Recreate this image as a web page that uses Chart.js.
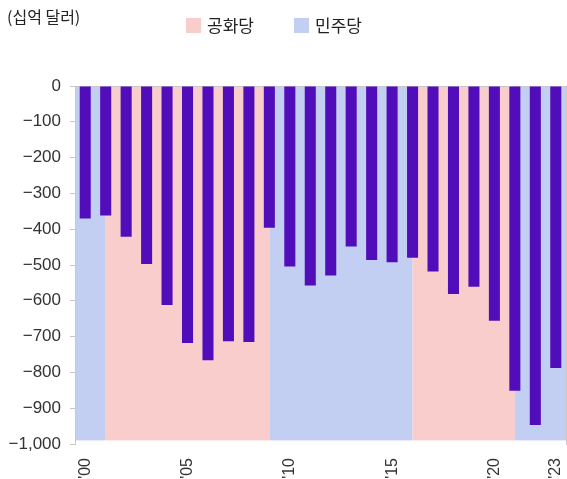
<!DOCTYPE html>
<html>
<head>
<meta charset="utf-8">
<script src="https://cdn.jsdelivr.net/npm/chart.js@4"></script>
<style>
  html, body { margin: 0; padding: 0; background: #fff; }
  #wrap { width: 567px; height: 479px; }
</style>
</head>
<body>
<div id="wrap"><canvas id="deficitChart" width="567" height="479"></canvas></div>
<script>
// Years and values (billion USD)
const years = [2000, 2001, 2002, 2003, 2004, 2005, 2006, 2007, 2008, 2009, 2010, 2011,
               2012, 2013, 2014, 2015, 2016, 2017, 2018, 2019, 2020, 2021, 2022, 2023];
const balance = [-370, -362, -421, -497, -612, -718, -766, -713, -715, -396, -504, -557,
                 -529, -448, -486, -492, -480, -518, -581, -561, -656, -851, -947, -788];
const yTicks = [0, -100, -200, -300, -400, -500, -600, -700, -800, -900, -1000];
const shownYears = [2000, 2005, 2010, 2015, 2020, 2023];

// Party shading (year positions), 0 = Republican, 1 = Democratic
const partyNames = ['공화당', '민주당'];
const spanFrom = [1999.5, 2001, 2009, 2016, 2021];
const spanTo = [2001, 2009, 2016, 2021, 2023.5];
const spanParty = [1, 0, 1, 0, 1];
const shadeFloor = -990;

const unitLabel = '(십억 달러)';
const partyColors = ['#f9cdcc', '#c2cff3'];
const barColor = '#520dbb';
const axisGrey = '#c8c8c8';

const labels = years.map(y => "'" + String(y).slice(2));

// Draw party background bands using the chart's own scales
const partyBands = {
    id: 'partyBands',
    beforeDraw(chart) {
        const { ctx, scales: { x, y } } = chart;
        const top = y.getPixelForValue(0);
        const bottom = y.getPixelForValue(shadeFloor);
        ctx.save();
        spanFrom.forEach((from, i) => {
            const left = x.getPixelForValue(from - years[0]);
            const right = x.getPixelForValue(spanTo[i] - years[0]);
            ctx.fillStyle = partyColors[spanParty[i]];
            ctx.fillRect(left, top, right - left, bottom - top);
        });
        ctx.restore();
    }
};

// Unit label and legend across the top
const header = {
    id: 'header',
    afterDraw(chart) {
        const ctx = chart.ctx;
        ctx.save();
        ctx.font = '16px "Noto Sans CJK KR", sans-serif';
        ctx.fillStyle = '#222';
        ctx.textBaseline = 'middle';
        ctx.fillText(unitLabel, 7, 17);

        const boxX = [186, 294];
        partyNames.forEach((name, i) => {
            ctx.fillStyle = partyColors[i];
            ctx.fillRect(boxX[i], 18, 15, 15);
            ctx.fillStyle = '#222';
            ctx.font = '17px "Noto Sans CJK KR", sans-serif';
            ctx.fillText(name, boxX[i] + 21, 26);
        });
        ctx.restore();
    }
};

const ctx = document.getElementById('deficitChart');

new Chart(ctx, {
    type: 'bar',
    data: {
        labels: labels,
        datasets: [{
            label: '무역수지',
            data: balance,
            backgroundColor: barColor,
            borderWidth: 0,
            barPercentage: 0.54,
            categoryPercentage: 1.0
        }]
    },
    options: {
        responsive: false,
        animation: false,
        layout: {
            padding: { top: 86, right: 0, bottom: 0, left: 0 }
        },
        plugins: {
            legend: { display: false },
            title: { display: false },
            tooltip: { enabled: false }
        },
        scales: {
            x: {
                grid: { display: false },
                border: { display: false },
                ticks: {
                    autoSkip: false,
                    minRotation: 90,
                    maxRotation: 90,
                    padding: 6,
                    color: '#333',
                    font: { family: '"Liberation Sans", Arial, sans-serif', size: 16 },
                    callback: function(value, index) {
                        return shownYears.includes(years[index]) ? labels[index] : '';
                    }
                },
                afterFit: scale => {
                    scale.height = 35;
                    scale.paddingLeft = 0;
                    scale.paddingRight = 0;
                }
            },
            y: {
                min: -1000,
                max: 0,
                z: 1,
                afterBuildTicks: scale => {
                    scale.ticks = yTicks.map(v => ({ value: v }));
                },
                ticks: {
                    padding: 9,
                    color: '#333',
                    font: { family: '"Liberation Sans", Arial, sans-serif', size: 17 },
                    callback: v => (v < 0 ? '\u2212' : '') + Math.abs(v).toLocaleString('en-US')
                },
                grid: {
                    color: c => (c.tick && c.tick.value === 0) ? axisGrey : 'rgba(0,0,0,0)',
                    tickColor: axisGrey,
                    tickLength: 5
                },
                border: { color: axisGrey },
                afterFit: scale => { scale.width = 75; }
            },
            y2: {
                position: 'right',
                min: -1000,
                max: 0,
                ticks: { display: false },
                grid: { display: false, drawTicks: false },
                border: { display: true, color: axisGrey },
                afterFit: scale => { scale.width = 1; }
            }
        }
    },
    plugins: [partyBands, header]
});
</script>
</body>
</html>
